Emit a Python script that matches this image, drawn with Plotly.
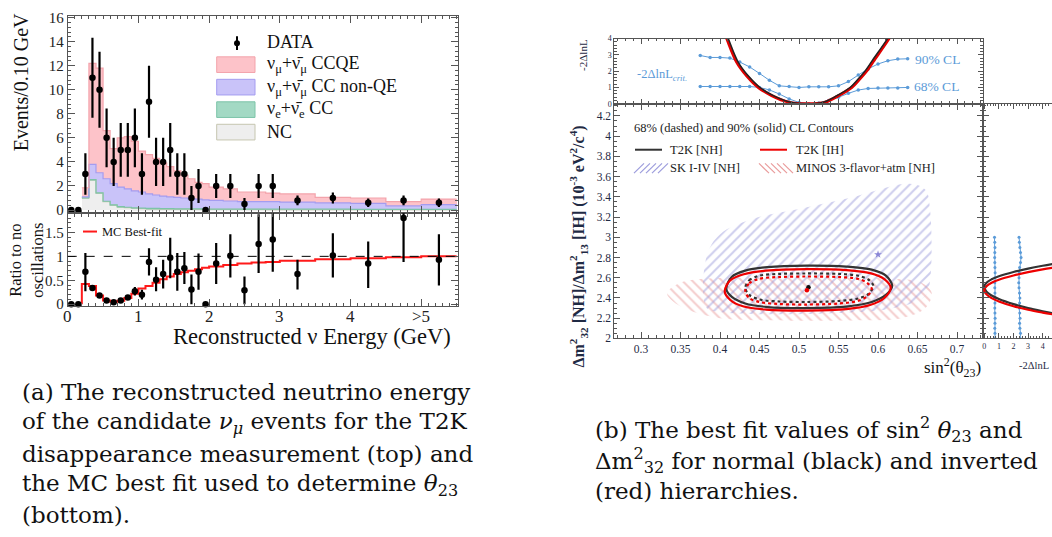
import plotly.graph_objects as go
import numpy as np

W, H = 1052, 537
SERIF = "Liberation Serif"
CAPTION_FONT = "DejaVu Serif"


def px(v):
    return v / W


def py(v):
    return 1 - v / H


# ---------------- (a) T2K nu_mu disappearance spectrum ----------------
data_e = [0.05, 0.15, 0.25, 0.35, 0.45, 0.55, 0.65, 0.75, 0.85, 0.95,
          1.05, 1.15, 1.25, 1.35, 1.45, 1.55, 1.65, 1.75, 1.85, 1.95,
          2.1, 2.3, 2.5, 2.7, 2.9, 3.25, 3.75, 4.25, 4.75, 5.25]
data_n = [0, 0, 3, 11, 10, 6, 4, 5, 5, 6,
          3, 9, 4, 4, 5, 3, 3, 1, 2, 0,
          2, 2, 0.5, 2, 2, 0.8, 1.0, 0.6, 0.8, 0.6]
data_err = [0, 0, 1.73, 3.32, 3.16, 2.45, 2.0, 2.24, 2.24, 2.45,
            1.73, 3.0, 2.0, 2.0, 2.24, 1.73, 1.73, 1.0, 1.41, 0,
            1.0, 1.0, 0.5, 1.0, 1.0, 0.4, 0.45, 0.35, 0.4, 0.35]

ratio = [0, 0, 0.68, 0.34, 0.18, 0.08, 0.04, 0.08, 0.14, 0.27,
         0.20, 0.88, 0.51, 0.63, 0.97, 0.68, 0.75, 0.31, 0.68, 0,
         0.85, 1.01, 0.29, 1.26, 1.35, 0.63, 1.02, 0.85, 1.80, 0.93]
ratio_up = [0, 0, 0.39, 0.06, 0.05, 0.04, 0.03, 0.04, 0.05, 0.09,
            0.10, 0.29, 0.26, 0.30, 0.42, 0.39, 0.34, 0.31, 0.38, 0,
            0.43, 0.45, 0.29, 0.62, 0.65, 0.30, 0.46, 0.46, 0.80, 0.53]
ratio_dn = [0, 0, 0.41, 0.06, 0.05, 0.04, 0.03, 0.04, 0.05, 0.09,
            0.10, 0.28, 0.24, 0.30, 0.43, 0.40, 0.33, 0.31, 0.38, 0,
            0.43, 0.45, 0.29, 0.61, 0.67, 0.32, 0.46, 0.51, 0.92, 0.54]

mc_edges = [0.2, 0.3, 0.4, 0.5, 0.6, 0.7, 0.8, 0.9, 1.0, 1.1, 1.2, 1.3, 1.4, 1.5,
            1.6, 1.7, 1.8, 1.9, 2.0, 2.2, 2.4, 2.6, 2.8, 3.0, 3.5, 4.0, 4.5, 5.0, 5.5]
mc_nc = [1.0, 2.5, 1.4, 0.7, 0.4, 0.25, 0.2, 0.15, 0.12, 0.1, 0.1, 0.08, 0.08, 0.07,
         0.07, 0.06, 0.06, 0.05, 0.05, 0.05, 0.05, 0.05, 0.04, 0.04, 0.04, 0.03, 0.03, 0.03]
mc_nue = [0.02, 0.03, 0.03, 0.03, 0.03, 0.03, 0.03, 0.03, 0.03, 0.03, 0.03, 0.03, 0.03, 0.03,
          0.03, 0.03, 0.03, 0.03, 0.03, 0.03, 0.03, 0.03, 0.03, 0.03, 0.03, 0.03, 0.02, 0.02]
mc_nonqe = [0.08, 1.27, 1.67, 1.87, 1.77, 1.62, 1.52, 1.42, 1.35, 1.22, 1.12, 1.04, 0.99, 0.95,
            0.90, 0.86, 0.81, 0.77, 0.72, 0.67, 0.62, 0.62, 0.63, 0.58, 0.53, 0.49, 0.30, 0.40]
mc_ccqe = [0.75, 8.4, 8.7, 4.0, 2.9, 4.1, 4.35, 4.1, 3.4, 3.25, 3.05, 2.75, 2.5, 2.2,
           1.9, 1.65, 1.4, 1.35, 1.1, 1.0, 0.8, 0.8, 0.7, 0.7, 0.45, 0.45, 0.35, 0.45]
mc_ratio = [0.42, 0.38, 0.18, 0.08, 0.05, 0.07, 0.13, 0.22, 0.33, 0.38, 0.45, 0.52, 0.58, 0.63,
            0.67, 0.70, 0.73, 0.76, 0.79, 0.82, 0.85, 0.87, 0.88, 0.91, 0.94, 0.96, 0.98, 1.0]

energy_ticks = [0, 1, 2, 3, 4, 5]
energy_ticktext = ["0", "1", "2", "3", "4", ">5"]

# ---------------- (b) T2K sin^2(theta23) / dm^2_32 fit ----------------
scan_s = [0.375, 0.3875, 0.4, 0.4125, 0.425, 0.4375, 0.45, 0.4625, 0.475, 0.4875, 0.5,
          0.5125, 0.525, 0.5375, 0.55, 0.5625, 0.575, 0.5875, 0.6, 0.6125, 0.625, 0.6375]
crit90_s = [2.96, 2.84, 2.84, 2.80, 2.56, 2.26, 1.86, 1.44, 1.10, 1.06, 1.00,
            1.04, 1.04, 1.04, 1.10, 1.36, 1.76, 2.14, 2.44, 2.64, 2.74, 2.76]
crit68_s = [1.06, 1.06, 1.06, 1.06, 1.06, 1.06, 1.0, 0.85, 0.6, 0.3, 0.08,
            0.0, 0.04, 0.2, 0.4, 0.64, 0.84, 0.94, 0.96, 0.96, 0.96, 1.0]

nh_s = [0.400, 0.4105, 0.423, 0.436, 0.4506, 0.4675, 0.489, 0.51,
        0.531, 0.548, 0.5646, 0.5745, 0.5835, 0.592, 0.612, 0.622]
nh_chi = [5.3, 4.0, 2.56, 1.7, 1.0, 0.5, 0.1, 0.0, 0.1, 0.5, 1.0, 1.5, 2.0, 2.6, 4.0, 4.8]
ih_s = [0.398, 0.4085, 0.421, 0.434, 0.4486, 0.4655, 0.487, 0.51,
        0.533, 0.55, 0.5666, 0.5765, 0.5855, 0.594, 0.614, 0.624]
ih_chi = [5.3, 4.0, 2.56, 1.7, 1.0, 0.5, 0.1, 0.0, 0.1, 0.5, 1.0, 1.5, 2.0, 2.6, 4.0, 4.8]

prof_chi = [4.8, 4.0, 3.0, 2.0, 1.0, 0.5, 0.15, 0.0, 0.15, 0.5, 1.0, 2.0, 3.0, 4.0, 4.8]
nh_prof_dm = [2.738, 2.718, 2.69, 2.657, 2.614, 2.584, 2.55, 2.51,
              2.463, 2.424, 2.389, 2.339, 2.30, 2.268, 2.245]
ih_prof_dm = [2.70, 2.683, 2.655, 2.622, 2.58, 2.55, 2.516, 2.478,
              2.435, 2.398, 2.365, 2.318, 2.283, 2.255, 2.235]

scan_dm = [2.00, 2.05, 2.10, 2.15, 2.20, 2.25, 2.30, 2.35, 2.40, 2.45, 2.50,
           2.55, 2.60, 2.65, 2.70, 2.75, 2.80, 2.85, 2.90, 2.95, 3.00]
crit68_dm = [0.74, 0.73, 0.72, 0.73, 0.74, 0.73, 0.72, 0.73, 0.74, 0.73, 0.72,
             0.72, 0.73, 0.74, 0.73, 0.72, 0.71, 0.72, 0.73, 0.72, 0.70]
crit90_dm = [2.46, 2.48, 2.44, 2.42, 2.45, 2.43, 2.40, 2.42, 2.44, 2.41, 2.38,
             2.36, 2.38, 2.40, 2.42, 2.48, 2.52, 2.48, 2.44, 2.40, 2.38]

# contour outlines (sin^2 theta23, dm^2)
nh90_s = [0.408, 0.415, 0.432, 0.46, 0.51, 0.56, 0.592, 0.610, 0.618, 0.610, 0.592, 0.56, 0.51, 0.46, 0.432, 0.415, 0.408]
nh90_m = [2.49, 2.61, 2.67, 2.705, 2.72, 2.71, 2.68, 2.62, 2.52, 2.43, 2.36, 2.315, 2.30, 2.31, 2.345, 2.41, 2.49]
ih90_s = [0.406, 0.413, 0.43, 0.458, 0.51, 0.56, 0.59, 0.608, 0.616, 0.608, 0.59, 0.56, 0.51, 0.458, 0.43, 0.413, 0.406]
ih90_m = [2.465, 2.575, 2.635, 2.67, 2.685, 2.675, 2.645, 2.585, 2.50, 2.40, 2.33, 2.29, 2.275, 2.285, 2.315, 2.38, 2.465]
nh68_s = [0.432, 0.437, 0.45, 0.475, 0.51, 0.55, 0.575, 0.588, 0.594, 0.588, 0.575, 0.55, 0.51, 0.475, 0.45, 0.437, 0.432]
nh68_m = [2.50, 2.575, 2.62, 2.638, 2.642, 2.638, 2.62, 2.58, 2.52, 2.44, 2.395, 2.37, 2.36, 2.365, 2.385, 2.43, 2.50]
ih68_s = [0.432, 0.437, 0.45, 0.475, 0.51, 0.55, 0.574, 0.586, 0.592, 0.586, 0.574, 0.55, 0.51, 0.475, 0.45, 0.437, 0.432]
ih68_m = [2.47, 2.545, 2.59, 2.607, 2.612, 2.607, 2.59, 2.55, 2.49, 2.415, 2.37, 2.345, 2.335, 2.34, 2.36, 2.40, 2.47]

sk_s = [0.383, 0.383, 0.40, 0.445, 0.50, 0.565, 0.64, 0.66, 0.666, 0.666, 0.66, 0.62, 0.55, 0.45, 0.40, 0.383]
sk_m = [2.30, 2.81, 3.03, 3.19, 3.28, 3.39, 3.53, 3.47, 3.26, 2.58, 2.42, 2.30, 2.25, 2.24, 2.26, 2.30]
minos_s = [0.333, 0.35, 0.38, 0.45, 0.55, 0.62, 0.655, 0.668, 0.66, 0.63, 0.58, 0.45, 0.40, 0.36, 0.34, 0.333]
minos_m = [2.45, 2.55, 2.59, 2.60, 2.60, 2.59, 2.55, 2.45, 2.30, 2.20, 2.18, 2.18, 2.20, 2.28, 2.37, 2.45]

bestfit_nh = (0.512, 2.506)
bestfit_ih = (0.510, 2.477)
bestfit_sk = (0.600, 2.830)

# ---------------- figure ----------------
fig = go.Figure()

edges = np.array(mc_edges)
centers = (edges[:-1] + edges[1:]) / 2
widths = np.diff(edges)

layers = [
    (mc_nc, "#eeeeee", "#c6c6b0"),
    (mc_nue, "#a3d9c4", "#7cc4a8"),
    (mc_nonqe, "#c9c3f9", "#a49cf0"),
    (mc_ccqe, "#fdc3c9", "#f3a3ab"),
]
for vals, fill, _ in layers:
    fig.add_trace(go.Bar(x=centers, y=vals, width=widths, marker_color=fill,
                         marker_line_width=0, xaxis="x", yaxis="y", hoverinfo="skip"))
cum = np.zeros(len(centers))
for vals, _, edge in layers:
    cum = cum + np.array(vals)
    fig.add_trace(go.Scatter(x=edges, y=np.append(cum, cum[-1]), mode="lines",
                             line=dict(color=edge, width=1.2, shape="hv"),
                             xaxis="x", yaxis="y", hoverinfo="skip"))

fig.add_trace(go.Scatter(
    x=data_e, y=data_n, mode="markers",
    marker=dict(color="black", size=6.5),
    error_y=dict(type="data", array=data_err, arrayminus=data_err, symmetric=False,
                 thickness=2.2, width=0, color="black"),
    xaxis="x", yaxis="y", cliponaxis=False))

fig.add_trace(go.Scatter(
    x=np.concatenate([[edges[0]], edges]), y=[0] + mc_ratio + [mc_ratio[-1]],
    mode="lines", line=dict(color="#ff1a1a", width=2, shape="hv"),
    xaxis="x2", yaxis="y2"))
fig.add_trace(go.Scatter(
    x=data_e, y=ratio, mode="markers",
    marker=dict(color="black", size=6.5),
    error_y=dict(type="data", array=ratio_up, arrayminus=ratio_dn, symmetric=False,
                 thickness=2.2, width=0, color="black"),
    xaxis="x2", yaxis="y2", cliponaxis=False))

# critical -2lnL curves and profile scans vs sin^2
blue = "#5b9bd8"
for crit in (crit90_s, crit68_s):
    fig.add_trace(go.Scatter(x=scan_s, y=crit, mode="lines+markers",
                             line=dict(color=blue, width=1), marker=dict(color=blue, size=3.5),
                             xaxis="x3", yaxis="y3"))
fig.add_trace(go.Scatter(x=ih_s, y=ih_chi, mode="lines", line=dict(color="#e00000", width=3, shape="spline"),
                         xaxis="x3", yaxis="y3"))
fig.add_trace(go.Scatter(x=nh_s, y=nh_chi, mode="lines", line=dict(color="#222222", width=1.5, shape="spline"),
                         xaxis="x3", yaxis="y3"))

# allowed regions
fig.add_trace(go.Scatter(x=minos_s, y=minos_m, mode="lines", fill="toself",
                         line=dict(width=0, shape="spline"), fillcolor="rgba(0,0,0,0)",
                         fillpattern=dict(shape="\\", fgcolor="#e99a9a", bgcolor="rgba(255,255,255,0)",
                                          size=7, solidity=0.28),
                         xaxis="x4", yaxis="y4"))
fig.add_trace(go.Scatter(x=sk_s, y=sk_m, mode="lines", fill="toself",
                         line=dict(width=0, shape="spline"), fillcolor="rgba(0,0,0,0)",
                         fillpattern=dict(shape="/", fgcolor="#9c9cdc", bgcolor="rgba(255,255,255,0)",
                                          size=7, solidity=0.28),
                         xaxis="x4", yaxis="y4"))
fig.add_trace(go.Scatter(x=[bestfit_sk[0]], y=[bestfit_sk[1]], mode="markers",
                         marker=dict(symbol="star", size=6, color="#8a86d6"), xaxis="x4", yaxis="y4"))

for xs, ys, col, dash, wd in [
    (nh90_s, nh90_m, "#333333", "solid", 2.2),
    (ih90_s, ih90_m, "#ee0000", "solid", 2.2),
    (nh68_s, nh68_m, "#333333", "dot", 2.2),
    (ih68_s, ih68_m, "#ee0000", "dot", 2.2),
]:
    fig.add_trace(go.Scatter(x=xs, y=ys, mode="lines",
                             line=dict(color=col, width=wd, dash=dash, shape="spline", smoothing=0.9),
                             xaxis="x4", yaxis="y4"))
fig.add_trace(go.Scatter(x=[bestfit_nh[0]], y=[bestfit_nh[1]], mode="markers",
                         marker=dict(color="#111111", size=4.5), xaxis="x4", yaxis="y4"))
fig.add_trace(go.Scatter(x=[bestfit_ih[0]], y=[bestfit_ih[1]], mode="markers",
                         marker=dict(color="#ee0000", size=4.5), xaxis="x4", yaxis="y4"))

# profile scans vs dm^2
for crit in (crit68_dm, crit90_dm):
    fig.add_trace(go.Scatter(x=crit, y=scan_dm, mode="lines+markers",
                             line=dict(color=blue, width=1), marker=dict(color=blue, size=3),
                             xaxis="x5", yaxis="y5"))
fig.add_trace(go.Scatter(x=prof_chi, y=nh_prof_dm, mode="lines", line=dict(color="#333333", width=2.2, shape="spline"),
                         xaxis="x5", yaxis="y5"))
fig.add_trace(go.Scatter(x=prof_chi, y=ih_prof_dm, mode="lines", line=dict(color="#ee0000", width=2.2, shape="spline"),
                         xaxis="x5", yaxis="y5"))


def axis(**kw):
    base = dict(showline=True, linecolor="#555555", linewidth=1, mirror="allticks",
                ticks="inside", ticklen=7, tickwidth=1, tickcolor="#555555",
                showgrid=False, zeroline=False, layer="above traces",
                tickfont=dict(family=SERIF, size=15, color="#222222"))
    base.update(kw)
    return base


def minor(d, ln=3.5):
    return dict(ticks="inside", ticklen=ln, tickcolor="#555555", dtick=d, showgrid=False)


XL = [px(67.7), px(458)]
XR = [px(614.3), px(982.7)]
SRANGE = [0.2662, 0.7325]
MRANGE = [2.0, 4.32]

fig.update_layout(
    width=W, height=H, margin=dict(l=0, r=0, t=0, b=0),
    paper_bgcolor="white", plot_bgcolor="white", showlegend=False,
    barmode="stack", bargap=0,
    xaxis=axis(domain=XL, range=[0, 5.52], anchor="y", showticklabels=False,
               tickvals=energy_ticks, minor=minor(0.1)),
    yaxis=axis(domain=[py(212), py(10)], range=[-0.27, 16.15], anchor="x",
               dtick=2, minor=minor(0.4)),
    xaxis2=axis(domain=XL, range=[0, 5.52], anchor="y2", showticklabels=False,
                tickvals=energy_ticks, minor=minor(0.1)),
    yaxis2=axis(domain=[py(307), py(212)], range=[-0.04, 1.9], anchor="x2",
                tickvals=[0, 0.5, 1, 1.5], minor=minor(0.1)),
    xaxis3=axis(domain=XR, range=SRANGE, anchor="y3", showticklabels=False,
                dtick=0.05, tick0=0.3, ticklen=5, minor=minor(0.01, 2.5)),
    yaxis3=axis(domain=[py(100), py(33.3)], range=[0, 4], anchor="x3", dtick=1, ticklen=5,
                tickfont=dict(family=SERIF, size=8, color="#1f2a44"), minor=minor(0.2, 2.5)),
    xaxis4=axis(domain=XR, range=SRANGE, anchor="y4", dtick=0.05, tick0=0.3, ticklen=6,
                tickfont=dict(family=SERIF, size=11.5, color="#1f2a44"), minor=minor(0.01, 3)),
    yaxis4=axis(domain=[py(340), py(100)], range=MRANGE, anchor="x4", dtick=0.2, tick0=2.0, ticklen=6,
                tickfont=dict(family=SERIF, size=11.5, color="#1f2a44"), minor=minor(0.05, 3)),
    xaxis5=axis(domain=[px(982.7), 1.0], range=[-0.11, 4.64], anchor="y5", dtick=1, ticklen=5,
                tickfont=dict(family=SERIF, size=8, color="#1f2a44"), minor=minor(0.2, 2.5)),
    yaxis5=axis(domain=[py(340), py(100)], range=MRANGE, anchor="x5", showticklabels=False,
                mirror=False, dtick=0.2, tick0=2.0, ticklen=6, minor=minor(0.05, 3)),
)

fig.add_shape(type="line", xref="x2 domain", yref="y2", x0=0, x1=1, y0=1, y1=1,
              line=dict(color="black", width=1, dash="dash"))

ann = []


def text(x, y, s, size, color="#111111", xanchor="left", yanchor="middle", angle=0, family=SERIF):
    ann.append(dict(x=px(x), y=py(y), xref="paper", yref="paper", text=s, showarrow=False,
                    xanchor=xanchor, yanchor=yanchor, textangle=angle,
                    font=dict(family=family, size=size, color=color)))


# energy tick labels placed on the x2 scale, tight under the frame
for v, lab in zip(energy_ticks, energy_ticktext):
    ann.append(dict(x=v, xref="x2", y=py(318), yref="paper", text=lab, showarrow=False,
                    xanchor="center", yanchor="middle",
                    font=dict(family=SERIF, size=17, color="#222222")))

# legend of the spectrum panel
fig.add_shape(type="line", xref="paper", yref="paper", x0=px(237), x1=px(237), y0=py(31), y1=py(45),
              line=dict(color="black", width=2))
fig.add_shape(type="circle", xref="paper", yref="paper", x0=px(234), x1=px(240), y0=py(35), y1=py(41),
              fillcolor="black", line=dict(color="black", width=0))
text(265, 37, "DATA", 18)
boxes = [(52, 68, "#fdc3c9", "#f3a3ab", "ν<sub>μ</sub>+ν̄<sub>μ</sub> CCQE"),
         (75, 91, "#c9c3f9", "#a49cf0", "ν<sub>μ</sub>+ν̄<sub>μ</sub> CC non-QE"),
         (98, 114, "#a3d9c4", "#7cc4a8", "ν<sub>e</sub>+ν̄<sub>e</sub> CC"),
         (121, 137, "#eeeeee", "#c6c6b0", "NC")]
for y0, y1, fc, lc, lab in boxes:
    fig.add_shape(type="rect", xref="paper", yref="paper", x0=px(216.7), x1=px(255), y0=py(y1), y1=py(y0),
                  fillcolor=fc, line=dict(color=lc, width=1))
    text(265, (y0 + y1) / 2, lab, 18)

fig.add_shape(type="line", xref="paper", yref="paper", x0=px(83), x1=px(97), y0=py(230.7), y1=py(230.7),
              line=dict(color="#ff1a1a", width=2))
text(100, 231, "MC Best-fit", 12.5)

text(21, 78, "Events/0.10 GeV", 20, angle=-90, xanchor="center", yanchor="middle")
text(16, 300, "Ratio to no", 16.5, angle=-90, xanchor="center", yanchor="bottom")
text(38, 300, "oscillations", 16.5, angle=-90, xanchor="center", yanchor="bottom")
text(312, 338, "Reconstructed ν Energy (GeV)", 22.5, xanchor="center")

# legend of the contour panel
text(632, 125, "68% (dashed) and 90% (solid) CL Contours", 12.5, color="#222222")
fig.add_shape(type="line", xref="paper", yref="paper", x0=px(635), x1=px(662), y0=py(147), y1=py(147),
              line=dict(color="#333333", width=2))
text(668, 147, "T2K [NH]", 12.5, color="#222222")
fig.add_shape(type="line", xref="paper", yref="paper", x0=px(760), x1=px(787), y0=py(147), y1=py(147),
              line=dict(color="#ee0000", width=2))
text(794, 147, "T2K [IH]", 12.5, color="#222222")
for k in range(5):
    fig.add_shape(type="line", xref="paper", yref="paper",
                  x0=px(634 + 6 * k), x1=px(644 + 6 * k), y0=py(171), y1=py(161),
                  line=dict(color="#9c9cdc", width=1.2))
    fig.add_shape(type="line", xref="paper", yref="paper",
                  x0=px(759 + 6 * k), x1=px(769 + 6 * k), y0=py(161), y1=py(171),
                  line=dict(color="#e99a9a", width=1.2))
text(668, 166, "SK I-IV [NH]", 12.5, color="#222222")
text(794, 166, "MINOS 3-flavor+atm [NH]", 12.5, color="#222222")

text(635, 71, "-2ΔlnL<sub><i>crit.</i></sub>", 12.5, color=blue)
text(913, 55, "90% CL", 13.5, color=blue)
text(912, 82, "68% CL", 13.5, color=blue)

text(583, 50, "-2ΔlnL", 11, color="#1f2a44", angle=-90, xanchor="center")
text(578, 246, "<b>Δm<sup>2</sup><sub>32</sub> [NH]/Δm<sup>2</sup><sub>13</sub> [IH] (10<sup>-3</sup> eV<sup>2</sup>/c<sup>4</sup>)</b>",
     16, color="#1f2a44", angle=-90, xanchor="center")
text(952, 370, "sin<sup>2</sup>(θ<sub>23</sub>)", 17, color="#111111", xanchor="center")
text(1034, 368, "-2ΔlnL", 10.5, color="#1f2a44", xanchor="center")

# captions
cap_a = ["(a) The reconstructed neutrino energy",
         "of the candidate <i>ν<sub>μ</sub></i> events for the T2K",
         "disappearance measurement (top) and",
         "the MC best fit used to determine <i>θ</i><sub>23</sub>",
         "(bottom)."]
for i, line in enumerate(cap_a):
    text(20, 395 + 31.5 * i, line, 23, color="#111111", family=CAPTION_FONT)
cap_b = ["(b) The best fit values of sin<sup>2</sup> <i>θ</i><sub>23</sub> and",
         "Δm<sup>2</sup><sub>32</sub> for normal (black) and inverted",
         "(red) hierarchies."]
for i, line in enumerate(cap_b):
    text(593, 433 + 31.7 * i, line, 23, color="#111111", family=CAPTION_FONT)

fig.update_layout(annotations=ann)
fig.write_html("out.html")
